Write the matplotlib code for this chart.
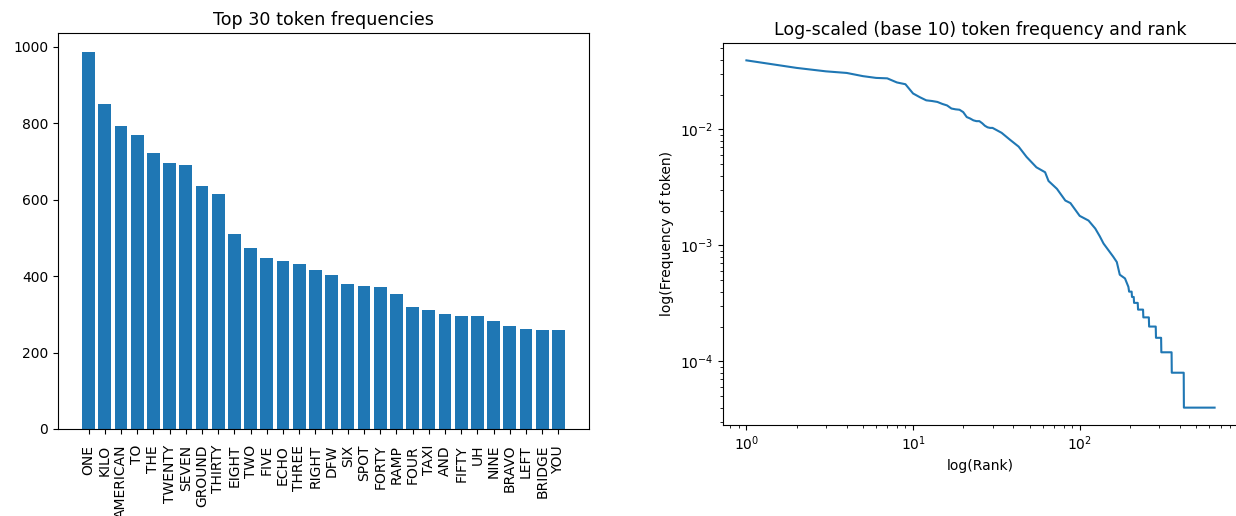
import numpy as np
import matplotlib.pyplot as plt

# --- top 30 tokens (bar chart) ---
tokens = ["ONE", "KILO", "AMERICAN", "TO", "THE", "TWENTY", "SEVEN", "GROUND",
          "THIRTY", "EIGHT", "TWO", "FIVE", "ECHO", "THREE", "RIGHT", "DFW",
          "SIX", "SPOT", "FORTY", "RAMP", "FOUR", "TAXI", "AND", "FIFTY", "UH",
          "NINE", "BRAVO", "LEFT", "BRIDGE", "YOU"]
counts = [986, 849, 793, 768, 721, 696, 690, 636, 614, 511,
          474, 446, 440, 432, 415, 403, 379, 373, 370, 353,
          320, 311, 300, 295, 295, 283, 269, 261, 258, 258]

# total number of tokens in the corpus
TOTAL_TOKENS = 25000

# --- rank / count readings beyond the top 30 (log-log curve) ---
tail_ranks = [34, 38, 43, 48, 55, 62, 65, 73, 82, 88, 100, 113, 124, 132,
              139, 148, 159, 167, 174, 187, 196,
              198, 205, 206, 211, 212, 223, 224, 240, 241, 260, 261, 286,
              287, 308, 309, 356, 357, 421, 422, 645]
tail_counts = [234, 205, 178, 145, 118, 107, 90, 77, 61, 58, 45, 41, 35, 30,
               26, 23, 20, 18, 14, 13, 11,
               10, 10, 9, 9, 8, 8, 7, 7, 6, 6, 5, 5,
               4, 4, 3, 3, 2, 2, 1, 1]

ranks = np.concatenate([np.arange(1, len(counts) + 1), tail_ranks])
freqs = np.concatenate([counts, tail_counts]) / TOTAL_TOKENS

fig = plt.figure(figsize=(12.36, 5.16), dpi=100)

# --- left: bar chart ---
ax1 = fig.add_axes([58 / 1236, 87 / 516, 531 / 1236, 396 / 516])
ax1.bar(tokens, counts, color='#1f77b4')
ax1.set_title("Top 30 token frequencies", fontsize=12.6)
ax1.tick_params(axis='x', labelrotation=90, pad=8)

# --- right: log-log rank vs frequency ---
ax2 = fig.add_axes([723 / 1236, 91 / 516, 515 / 1236, 382 / 516])
ax2.plot(ranks, freqs, color='#1f77b4')
ax2.set_xscale('log')
ax2.set_yscale('log')
ax2.set_title("Log-scaled (base 10) token frequency and rank", fontsize=12.5)
ax2.set_xlabel("log(Rank)")
ax2.set_ylabel("log(Frequency of token)")

plt.savefig("out.png", dpi=100)
